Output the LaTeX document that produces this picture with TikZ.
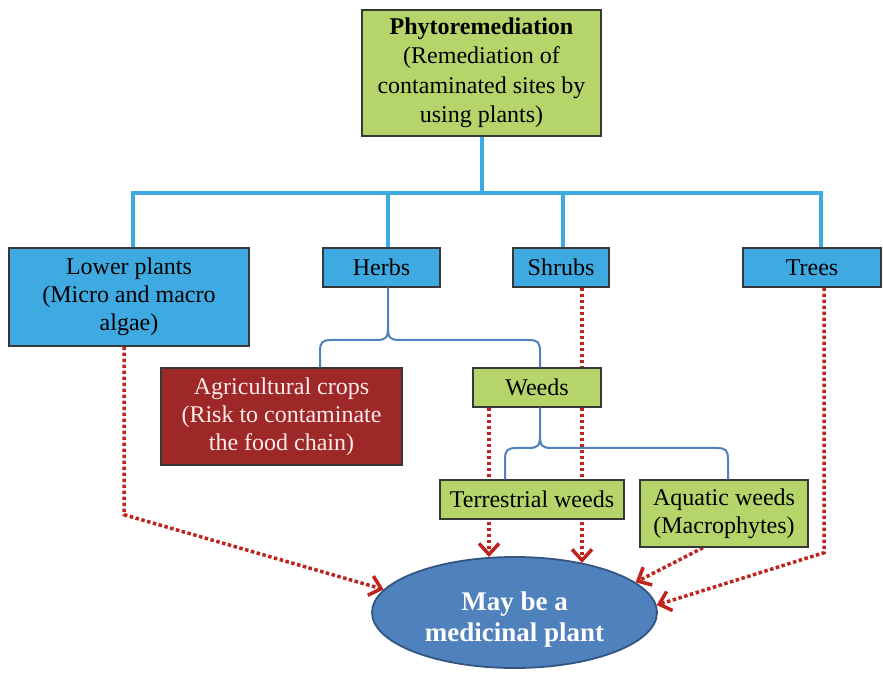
\documentclass[tikz,border=0pt]{standalone}
\usepackage{fontspec}
\setmainfont{Liberation Serif}
\usetikzlibrary{arrows.meta,shapes.geometric,backgrounds}
\definecolor{boxgreen}{RGB}{181,212,106}
\definecolor{boxblue}{RGB}{62,170,225}
\definecolor{trunkblue}{RGB}{62,170,225}
\definecolor{bracecol}{RGB}{79,129,189}
\definecolor{boxred}{RGB}{158,40,40}
\definecolor{ellfill}{RGB}{79,129,189}
\definecolor{elldraw}{RGB}{50,85,130}
\definecolor{dotred}{RGB}{190,35,30}
\definecolor{edgegray}{RGB}{55,55,55}
\tikzset{
  x=1pt,y=1pt,
  basebox/.style={draw=edgegray,line width=1.4pt,inner sep=0pt,align=center,
     font=\fontsize{24}{28}\selectfont},
  gbox/.style={basebox,fill=boxgreen},
  bbox/.style={basebox,fill=boxblue},
  rbox/.style={basebox,fill=boxred,text=white!92!red},
  trunk/.style={draw=trunkblue,line width=4pt},
  bracel/.style={draw=bracecol,line width=2pt},
  dotarrow/.style={draw=dotred,line width=3.5pt,dash pattern=on 3.5pt off 2.5pt,
     -{Straight Barb[length=11pt,width=20pt,line width=3.5pt]}},
}
\begin{document}
\begin{tikzpicture}
\useasboundingbox (0,0) rectangle (883,675);
% nodes
\node[gbox,minimum width=239,minimum height=126,font=\fontsize{24}{29.5}\selectfont] (top) at (481.5,602)
  {\textbf{Phytoremediation}\\(Remediation of\\contaminated sites by\\using plants)};
\node[bbox,minimum width=240,minimum height=98] (lower) at (129,378)
  {Lower plants\\(Micro and macro\\algae)};
\node[bbox,minimum width=117,minimum height=39] (herbs) at (381.5,407.5) {Herbs};
\node[bbox,minimum width=96,minimum height=39] (shrubs) at (561,407.5) {Shrubs};
\node[bbox,minimum width=138,minimum height=39] (trees) at (812,407.5) {Trees};
\node[rbox,minimum width=241,minimum height=97] (agri) at (281.5,258.5)
  {Agricultural crops\\(Risk to contaminate\\the food chain)};
\node[gbox,minimum width=128,minimum height=39] (weeds) at (537,287.5) {Weeds};
\node[gbox,minimum width=184,minimum height=39] (terr) at (532,175.5) {Terrestrial weeds};
\node[gbox,minimum width=168,minimum height=67] (aqua) at (724,161.5) {Aquatic weeds\\(Macrophytes)};
\node[ellipse,fill=ellfill,draw=elldraw,line width=1.8pt,inner sep=0pt,
  minimum width=285,minimum height=111] (ell) at (514.5,62.5) {};
\node[text=white,align=center,inner sep=0pt,
  font=\fontsize{27}{30.5}\selectfont\bfseries] (elltext) at ([yshift=-7]ell.center)
  {May be a\\medicinal plant};
% main tree connectors
\coordinate (bar) at (481.5,482);
\draw[trunk] (top.south) -- (bar);
\draw[trunk] ([xshift=4]lower.north) |- (bar) -| ([xshift=9]trees.north);
\draw[trunk] ([xshift=6.5]herbs.north) |- (bar);
\draw[trunk] ([xshift=2]shrubs.north) |- (bar);
% brace under herbs
\draw[bracel] ([xshift=6.5]herbs.south) -- (388,348)
  .. controls (388,337) and (386,335) .. (376,335) -- (332,335)
  .. controls (322,335) and (320,333) .. (320,323) -- ([xshift=38.5]agri.north);
\draw[bracel] (388,348)
  .. controls (388,337) and (390,335) .. (400,335) -- (528,335)
  .. controls (538,335) and (540,333) .. (540,323) -- ([xshift=3]weeds.north);
% brace under weeds
\draw[bracel] ([xshift=3]weeds.south) -- (540,240)
  .. controls (540,229) and (538,227) .. (528,227) -- (517,227)
  .. controls (507,227) and (505,225) .. (505,215) -- ([xshift=-27]terr.north);
\draw[bracel] (540,240)
  .. controls (540,229) and (542,227) .. (552,227) -- (716,227)
  .. controls (726,227) and (728,225) .. (728,215) -- ([xshift=4]aqua.north);
% dotted arrows (behind boxes)
\begin{pgfonlayer}{background}
\draw[dotarrow] ([xshift=-5]lower.south) -- ++(0,-168) -- (ell.170);
\draw[dotarrow] ([xshift=-48]weeds.south) -- ([xshift=-48]weeds.south |- ell.115);
\draw[dotarrow] ([xshift=21]shrubs.south) -- ([xshift=21]shrubs.south |- ell.36);
\draw[dotarrow] ([xshift=-21]aqua.south) -- (ell.14);
\draw[dotarrow] ([xshift=12]trees.south) -- ++(0,-265) -- (ell.3);
\end{pgfonlayer}
\end{tikzpicture}
\end{document}
